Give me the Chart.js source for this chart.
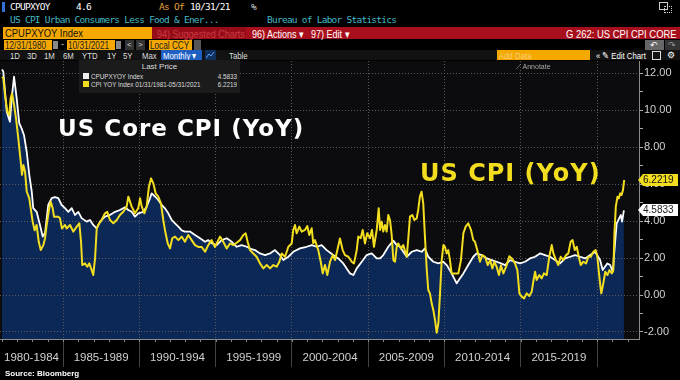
<!DOCTYPE html>
<html><head><meta charset="utf-8">
<script src="https://cdn.jsdelivr.net/npm/chart.js@4"></script>
<style>
html,body{margin:0;padding:0;background:#000;}
#wrap{position:relative;width:680px;height:380px;overflow:hidden;background:#000;font-family:"Liberation Sans",Arial,sans-serif;}
.t{position:absolute;white-space:nowrap;line-height:1;}
.mono{font-family:"DejaVu Sans Mono",monospace;font-size:9.5px;letter-spacing:-0.75px;}
.n{transform:scaleX(0.82);transform-origin:0 50%;}
.ln{transform:scaleX(0.84);transform-origin:0 50%;}
.rn{transform:scaleX(0.84);transform-origin:100% 50%;}
.box{position:absolute;}
#plotbg{position:absolute;left:0;top:61px;width:639px;height:278px;background:#0c0c0e;}
canvas{position:absolute;left:0;top:61px;}
</style></head>
<body><div id="wrap">
<!-- row 1 -->
<div class="box" style="left:2px;top:2px;width:3px;height:10px;background:#2f6fd6"></div>
<div class="t mono" style="left:10px;top:2px;color:#fff">CPUPXYOY</div>
<div class="t mono" style="left:76px;top:2px;color:#fff">4.6</div>
<div class="t mono" style="left:159px;top:2px;color:#e6a23c">As Of</div>
<div class="t mono" style="left:190px;top:2px;color:#fff">10/31/21</div>
<div class="t mono" style="left:251px;top:2px;color:#ddd">%</div>
<div class="box" style="left:659px;top:2px;width:7px;height:6px;border:1px solid #ccc"></div>
<div class="box" style="left:664px;top:6px;width:6px;height:5px;border:1px dotted #ccc"></div>
<!-- row 2 -->
<div class="t mono" style="left:10px;top:15px;color:#45b9c6">US CPI Urban Consumers Less Food &amp; Ener...</div>
<div class="t mono" style="left:267px;top:15px;color:#45b9c6">Bureau of Labor Statistics</div>
<!-- row 3 -->
<div class="box" style="left:3px;top:27px;width:149px;height:12px;background:#f5a800"></div>
<div class="t n" style="left:5px;top:28px;font-size:11.5px;color:#111">CPUPXYOY Index</div>
<div class="box" style="left:152px;top:27px;width:528px;height:12px;background:#a80f1c"></div>
<div class="box" style="left:152px;top:27px;width:94px;height:12px;background:#950c17"></div>
<div class="t n" style="left:157px;top:28.5px;font-size:11px;color:#cc3a44">94) Suggested Charts</div>
<div class="t n" style="left:252px;top:28.5px;font-size:11px;color:#fff">96) Actions ▾</div>
<div class="t n" style="left:311px;top:28.5px;font-size:11px;color:#fff">97) Edit ▾</div>
<div class="t n" style="left:566px;top:28.5px;font-size:11.5px;color:#fff">G 262: US CPI CPI CORE</div>
<!-- row 4 -->
<div class="box" style="left:4px;top:40px;width:48px;height:10px;background:#f5a800"></div>
<div class="t n" style="left:5px;top:40.5px;font-size:10px;color:#222">12/31/1980</div>
<div class="box" style="left:53px;top:41px;width:5px;height:8px;background:#888"></div>
<div class="t" style="left:61px;top:40px;font-size:9px;color:#ddd">-</div>
<div class="box" style="left:67px;top:40px;width:48px;height:10px;background:#f5a800"></div>
<div class="t n" style="left:68px;top:40.5px;font-size:10px;color:#222">10/31/2021</div>
<div class="box" style="left:116px;top:41px;width:5px;height:8px;background:#888"></div>
<div class="box" style="left:125px;top:40px;width:9px;height:10px;background:#333"></div>
<div class="t" style="left:127px;top:40.5px;font-size:8px;color:#ddd">&lt;</div>
<div class="box" style="left:136px;top:40px;width:9px;height:10px;background:#333"></div>
<div class="t" style="left:138px;top:40.5px;font-size:8px;color:#ddd">&gt;</div>
<div class="box" style="left:149px;top:40px;width:43px;height:10px;background:#f5a800"></div>
<div class="t n" style="left:150px;top:40.5px;font-size:10px;color:#222">Local CCY</div>
<div class="box" style="left:194px;top:40px;width:7px;height:10px;background:#555"></div>
<div class="box" style="left:645px;top:40px;width:19px;height:10px;background:#666"></div>
<div class="t" style="left:650px;top:40.5px;font-size:9px;color:#fff">↶</div>
<div class="box" style="left:665px;top:40px;width:15px;height:10px;background:#333"></div>
<div class="t" style="left:668px;top:40.5px;font-size:9px;color:#999">↷</div>
<!-- row 5 -->
<div class="box" style="left:0;top:50px;width:680px;height:10px;background:#121212"></div>
<div class="t n" style="left:10px;top:51px;font-size:9.5px;color:#ddd">1D</div>
<div class="t n" style="left:27px;top:51px;font-size:9.5px;color:#ddd">3D</div>
<div class="t n" style="left:44px;top:51px;font-size:9.5px;color:#ddd">1M</div>
<div class="t n" style="left:63px;top:51px;font-size:9.5px;color:#ddd">6M</div>
<div class="t n" style="left:82px;top:51px;font-size:9.5px;color:#ddd">YTD</div>
<div class="t n" style="left:107px;top:51px;font-size:9.5px;color:#ddd">1Y</div>
<div class="t n" style="left:123px;top:51px;font-size:9.5px;color:#ddd">5Y</div>
<div class="t n" style="left:142px;top:51px;font-size:9.5px;color:#ddd">Max</div>
<div class="box" style="left:161px;top:50px;width:41px;height:10px;background:#1f5fc4"></div>
<div class="t n" style="left:163px;top:51px;font-size:9.5px;color:#fff">Monthly ▾</div>
<div class="box" style="left:205px;top:50px;width:11px;height:10px;background:#10305e"></div>
<svg class="box" style="left:206px;top:51px" width="9" height="8"><polyline points="0,7 3,3 5,5 8,1" fill="none" stroke="#5aa0ff" stroke-width="1"/></svg>
<div class="t n" style="left:229px;top:51px;font-size:9.5px;color:#ddd">Table</div>
<div class="box" style="left:497px;top:50px;width:93px;height:10px;background:#f5a800"></div>
<div class="t n" style="left:499px;top:51px;font-size:9.5px;color:#f9cf7a">Add Data</div>
<div class="t n" style="left:596px;top:51px;font-size:9.5px;color:#fff">« ✎ Edit Chart</div>
<div class="box" style="left:652px;top:51px;width:7px;height:7px;border:1px solid #ddd"></div>
<div class="t" style="left:667px;top:50.5px;font-size:9px;color:#fff">⚙</div>

<div id="plotbg"></div>
<canvas id="c" width="680" height="309"></canvas>

<!-- legend -->
<div class="box" style="left:79px;top:60px;width:161px;height:33px;background:#1b1b1b"></div>
<div class="t" style="left:79px;width:161px;top:63px;text-align:center;font-size:8px;color:#ddd">Last Price</div>
<div class="box" style="left:83px;top:73px;width:6px;height:6px;background:#eee"></div>
<div class="t ln" id="lg1" style="left:91px;top:72.5px;font-size:7.5px;color:#ddd"></div>
<div class="t rn" id="lv1" style="right:443px;top:72.5px;font-size:7.5px;color:#ddd"></div>
<div class="box" style="left:83px;top:81px;width:6px;height:6px;background:#f2dd1f"></div>
<div class="t ln" id="lg2" style="left:91px;top:80.5px;font-size:7.5px;color:#ddd"></div>
<div class="t rn" id="lv2" style="right:443px;top:80.5px;font-size:7.5px;color:#ddd"></div>
<div class="t" style="left:516px;top:63px;font-size:7px;color:#aaa">⟋ Annotate</div>

<!-- annotations -->
<div class="t" style="left:58px;top:117px;font-family:'DejaVu Sans',sans-serif;font-weight:bold;font-size:23px;letter-spacing:1px;color:#fff">US Core CPI (YoY)</div>
<div class="t" style="left:420px;top:161px;font-family:'DejaVu Sans',sans-serif;font-weight:bold;font-size:24px;letter-spacing:1px;color:#f2dd1f">US CPI (YoY)</div>

<div class="t" style="left:5px;top:370px;font-size:8px;font-weight:bold;color:#fff">Source: Bloomberg</div>
</div>
<script>
// ---- data (decimal years, % YoY) ----
const coreYears = [1981.00,1981.09,1981.31,1981.52,1981.64,1981.79,1981.96,1982.13,1982.29,1982.44,1982.62,1982.79,1982.95,1983.05,1983.27,1983.49,1983.67,1983.82,1984.03,1984.26,1984.47,1984.69,1984.91,1985.13,1985.35,1985.57,1985.78,1986.00,1986.22,1986.55,1986.77,1986.98,1987.21,1987.42,1987.75,1988.08,1988.41,1988.73,1989.06,1989.28,1989.50,1989.72,1989.93,1990.26,1990.48,1990.70,1990.81,1991.03,1991.24,1991.47,1991.68,1991.90,1992.12,1992.34,1992.56,1992.78,1992.99,1993.32,1993.65,1993.98,1994.31,1994.52,1994.74,1995.07,1995.40,1995.73,1996.06,1996.38,1996.71,1997.04,1997.30,1997.58,1997.91,1998.24,1998.57,1998.89,1999.22,1999.44,1999.77,2000.09,2000.53,2000.97,2001.30,2001.63,2001.95,2002.28,2002.71,2003.04,2003.37,2003.81,2004.03,2004.25,2004.58,2004.90,2005.23,2005.56,2005.78,2005.99,2006.32,2006.65,2006.87,2007.09,2007.30,2007.53,2007.85,2008.18,2008.51,2008.72,2008.94,2009.27,2009.60,2009.92,2010.15,2010.47,2010.80,2011.02,2011.24,2011.56,2011.89,2012.11,2012.44,2012.77,2013.10,2013.42,2013.70,2013.97,2014.30,2014.62,2014.95,2015.28,2015.61,2015.94,2016.26,2016.59,2016.92,2017.25,2017.58,2017.91,2018.24,2018.56,2018.89,2019.22,2019.55,2019.88,2020.20,2020.37,2020.52,2020.68,2020.86,2021.03,2021.18,2021.29,2021.40,2021.56,2021.64,2021.76];
const coreValues = [12.20,12.08,9.92,9.38,10.66,11.81,10.66,9.30,9.00,8.66,7.75,6.50,5.60,4.70,4.50,3.79,3.16,3.35,4.87,5.24,5.30,5.24,4.87,4.70,4.50,4.70,4.33,4.50,4.16,3.97,4.06,3.79,3.60,3.97,4.24,4.33,4.50,4.60,4.75,4.60,4.50,4.24,4.42,4.50,4.78,5.23,5.50,5.33,5.14,4.87,4.69,4.42,4.06,3.88,3.70,3.50,3.43,3.43,3.25,3.07,2.88,2.97,2.80,2.70,2.97,3.07,2.88,2.61,2.70,2.61,2.50,2.43,2.25,2.16,2.25,2.43,2.16,1.89,2.07,2.34,2.52,2.61,2.70,2.61,2.70,2.43,2.16,1.98,1.71,1.17,1.08,1.44,1.80,2.16,2.25,1.98,1.98,2.16,2.61,2.94,2.70,2.61,2.34,2.07,2.34,2.43,2.34,2.52,2.07,1.80,1.71,1.80,1.62,1.17,0.63,0.90,1.17,1.62,2.07,2.25,2.16,1.98,1.89,1.80,1.71,1.62,1.89,1.80,1.71,1.80,1.98,2.07,2.25,2.16,2.07,1.89,1.71,1.98,2.07,2.16,2.07,1.98,2.16,2.34,1.89,1.35,1.53,1.71,1.62,1.26,2.80,3.88,4.06,4.33,3.97,4.5833];

const cpiYears = [1981.00,1981.09,1981.20,1981.35,1981.48,1981.57,1981.66,1981.79,1981.92,1982.07,1982.23,1982.31,1982.40,1982.51,1982.62,1982.79,1982.88,1983.01,1983.14,1983.27,1983.41,1983.54,1983.71,1983.82,1983.93,1984.10,1984.19,1984.32,1984.41,1984.69,1984.80,1984.93,1985.13,1985.24,1985.46,1985.67,1985.90,1986.07,1986.18,1986.26,1986.44,1986.59,1986.72,1986.88,1986.98,1987.10,1987.21,1987.31,1987.53,1987.75,1987.90,1988.08,1988.30,1988.52,1988.73,1988.95,1989.17,1989.28,1989.50,1989.72,1989.93,1990.05,1990.16,1990.33,1990.48,1990.63,1990.77,1990.92,1991.07,1991.24,1991.42,1991.57,1991.68,1991.86,1992.01,1992.16,1992.34,1992.56,1992.78,1992.99,1993.21,1993.43,1993.65,1993.87,1994.09,1994.31,1994.52,1994.74,1994.96,1995.29,1995.50,1995.73,1995.94,1996.16,1996.38,1996.60,1996.82,1996.97,1997.10,1997.25,1997.47,1997.69,1997.91,1998.13,1998.35,1998.57,1998.78,1999.00,1999.18,1999.33,1999.55,1999.77,1999.99,2000.09,2000.20,2000.31,2000.49,2000.64,2000.86,2001.01,2001.14,2001.30,2001.40,2001.51,2001.73,2001.89,2002.02,2002.17,2002.32,2002.50,2002.68,2002.83,2002.98,2003.15,2003.33,2003.48,2003.70,2003.92,2004.07,2004.25,2004.35,2004.51,2004.64,2004.79,2004.94,2005.12,2005.25,2005.38,2005.56,2005.69,2005.78,2005.89,2005.99,2006.10,2006.21,2006.32,2006.43,2006.54,2006.65,2006.76,2006.87,2006.97,2007.15,2007.30,2007.53,2007.64,2007.74,2007.89,2008.02,2008.18,2008.28,2008.39,2008.50,2008.61,2008.72,2008.84,2008.94,2009.05,2009.16,2009.27,2009.38,2009.49,2009.60,2009.71,2009.82,2009.93,2010.03,2010.15,2010.25,2010.36,2010.47,2010.69,2010.91,2011.08,2011.24,2011.39,2011.56,2011.74,2011.89,2012.00,2012.18,2012.33,2012.48,2012.66,2012.84,2012.99,2013.14,2013.27,2013.42,2013.57,2013.70,2013.86,2014.08,2014.25,2014.41,2014.62,2014.78,2014.91,2015.06,2015.22,2015.39,2015.56,2015.72,2015.82,2015.94,2016.04,2016.22,2016.37,2016.52,2016.70,2016.87,2017.03,2017.14,2017.31,2017.46,2017.62,2017.79,2017.97,2018.12,2018.27,2018.40,2018.54,2018.67,2018.80,2018.93,2019.10,2019.28,2019.43,2019.59,2019.76,2019.91,2020.02,2020.13,2020.22,2020.28,2020.41,2020.54,2020.68,2020.81,2020.97,2021.07,2021.14,2021.23,2021.34,2021.43,2021.52,2021.61,2021.70,2021.78];
const cpiValues = [11.80,11.73,10.80,9.92,9.74,10.66,10.90,10.30,9.56,8.48,7.20,6.50,7.03,6.70,5.60,5.23,4.70,3.97,3.50,3.79,2.88,2.43,2.70,3.06,3.79,4.70,5.05,4.70,4.24,4.24,4.15,3.60,3.79,3.60,3.79,3.43,3.70,3.88,2.88,1.62,1.71,1.53,1.71,1.35,1.08,1.98,3.60,3.79,4.06,4.42,4.50,4.06,3.88,4.06,4.33,4.50,4.78,5.32,4.78,4.42,4.69,5.23,4.78,4.42,4.78,5.86,6.31,6.04,5.50,5.32,4.96,4.06,3.52,2.80,2.52,3.07,3.16,2.97,3.16,2.88,3.25,2.97,2.70,2.60,2.60,2.34,2.70,2.97,2.60,3.16,2.88,2.52,2.79,2.70,2.83,2.97,3.25,3.34,2.88,2.43,2.25,2.07,1.71,1.44,1.62,1.44,1.62,1.53,1.80,2.25,2.07,2.61,2.79,3.52,3.79,3.34,3.70,3.43,3.52,3.73,3.25,3.61,2.80,2.97,2.43,1.80,1.17,1.62,1.08,1.80,2.16,1.89,2.43,3.06,2.43,2.16,2.07,1.80,1.71,2.43,3.16,3.07,3.52,2.79,3.34,3.07,3.52,2.61,3.52,4.69,3.52,3.97,3.43,3.79,3.43,4.33,4.06,3.25,1.89,1.80,2.61,2.79,2.52,2.70,2.07,3.16,4.24,4.33,4.06,4.15,4.60,5.32,5.59,4.96,3.16,1.35,0.27,0.09,-0.45,-0.81,-1.35,-2.04,-1.53,0.09,1.89,2.70,2.61,2.25,2.43,1.89,1.17,1.17,1.17,1.89,3.34,3.70,3.88,3.52,2.97,2.88,2.34,1.80,2.16,2.07,1.62,1.89,1.44,1.80,1.53,1.08,1.60,1.17,1.62,2.10,1.98,1.71,1.35,0.09,-0.09,-0.18,0.09,-0.05,0.18,0.72,1.26,0.81,1.08,0.90,1.17,1.08,2.07,2.70,2.25,1.89,1.62,2.07,1.89,2.16,2.25,2.88,2.97,2.43,2.61,2.07,1.62,1.80,1.71,2.07,2.07,2.34,2.43,2.07,1.17,0.45,0.09,0.63,1.26,1.08,1.35,1.17,1.35,3.34,4.78,5.32,5.23,5.50,5.41,5.68,6.2219];

const seriesNames = ['CPUPXYOY Index', 'CPI YOY Index 01/31/1981-05/31/2021'];
const bandStarts = [1980,1985,1990,1995,2000,2005,2010,2015,2020];
const bandLabels = ['1980-1984','1985-1989','1990-1994','1995-1999','2000-2004','2005-2009','2010-2014','2015-2019','2020-2024'];
const yTickValues = [-2,-1,0,1,2,3,4,5,6,7,8,9,10,11,12];

const toPoints = (xs, ys) => xs.map((x, i) => ({x: x, y: ys[i]}));
const lastCore = coreValues[coreValues.length - 1];
const lastCpi = cpiValues[cpiValues.length - 1];
document.getElementById('lg1').textContent = seriesNames[0];
document.getElementById('lg2').textContent = seriesNames[1];
document.getElementById('lv1').textContent = lastCore.toFixed(4);
document.getElementById('lv2').textContent = lastCpi.toFixed(4);

const YELLOW = '#f2dd1f';

const decor = {
  id: 'decor',
  afterDraw(chart) {
    const ctx = chart.ctx, a = chart.chartArea;
    const xs = chart.scales.x, ys = chart.scales.y;
    ctx.save();
    // minor yearly ticks on the bottom axis
    ctx.strokeStyle = '#888'; ctx.lineWidth = 1;
    for (let yr = Math.ceil(xs.min); yr <= xs.max; yr++) {
      const px = Math.round(xs.getPixelForValue(yr)) + 0.5;
      ctx.beginPath(); ctx.moveTo(px, a.bottom); ctx.lineTo(px, a.bottom + 3); ctx.stroke();
    }
    // band labels
    ctx.fillStyle = '#d0d0d0';
    ctx.font = '11.5px "Liberation Sans", Arial, sans-serif';
    ctx.textAlign = 'center'; ctx.textBaseline = 'middle';
    bandStarts.forEach((s, i) => {
      const l = Math.max(xs.getPixelForValue(s), a.left);
      const r = Math.min(xs.getPixelForValue(s + 5), a.right);
      if (r - l > 60) ctx.fillText(bandLabels[i], (l + r) / 2, a.bottom + 19);
    });
    // last value tags
    const tag = (val, fill, txt) => {
      const yc = Math.round(ys.getPixelForValue(val));
      const x0 = a.right - 1;
      ctx.fillStyle = fill;
      ctx.beginPath();
      ctx.moveTo(x0, yc); ctx.lineTo(x0 + 5, yc - 6); ctx.lineTo(x0 + 40, yc - 6);
      ctx.lineTo(x0 + 40, yc + 6); ctx.lineTo(x0 + 5, yc + 6); ctx.closePath(); ctx.fill();
      ctx.fillStyle = txt; ctx.textAlign = 'left'; ctx.textBaseline = 'middle';
      ctx.font = '10px "Liberation Sans", Arial, sans-serif';
      ctx.fillText(val.toFixed(4), x0 + 5, yc + 0.5);
    };
    tag(lastCpi, YELLOW, '#111');
    tag(lastCore, '#ffffff', '#222');
    ctx.restore();
  }
};

new Chart(document.getElementById('c'), {
  type: 'line',
  data: {
    datasets: [
      { label: seriesNames[1], data: toPoints(cpiYears, cpiValues), borderColor: YELLOW, borderWidth: 2, pointRadius: 0, fill: false, borderJoinStyle: 'round', tension: 0 },
      { label: seriesNames[0], data: toPoints(coreYears, coreValues), borderColor: '#ffffff', borderWidth: 1.8, pointRadius: 0, fill: 'start', backgroundColor: '#0b2856', borderJoinStyle: 'round', tension: 0 }
    ]
  },
  options: {
    responsive: false, animation: false, devicePixelRatio: 1,
    layout: { padding: 0, autoPadding: false },
    plugins: { legend: { display: false }, tooltip: { enabled: false }, filler: { drawTime: 'beforeDraw' } },
    scales: {
      x: {
        type: 'linear', position: 'bottom', min: 1980.87, max: 2022.75,
        afterBuildTicks: s => { s.ticks = bandStarts.slice(1).map(v => ({ value: v })); },
        afterFit: s => { s.height = 31; s.paddingLeft = 0; s.paddingRight = 0; },
        ticks: { display: false },
        grid: { color: '#5a5a5a', lineWidth: 1, tickLength: 28, tickColor: '#444', drawTicks: true },
        border: { display: true, color: '#8a8a8a', width: 1, dash: [1, 2] }
      },
      y: {
        position: 'right', min: -2.38, max: 12.66,
        afterBuildTicks: s => { s.ticks = yTickValues.map(v => ({ value: v })); },
        afterFit: s => { s.width = 41; s.paddingTop = 0; s.paddingBottom = 0; },
        ticks: { color: '#d0d0d0', padding: 1, font: { family: '"Liberation Sans", Arial, sans-serif', size: 11 },
                 callback: v => (v % 2 === 0 ? v.toFixed(2) : '') },
        grid: { color: c => (c.tick && c.tick.value % 2 === 0 ? '#5a5a5a' : 'rgba(0,0,0,0)'), tickLength: 4, tickColor: '#aaa', drawTicks: true },
        border: { display: true, color: '#8a8a8a', width: 1, dash: [1, 2] }
      }
    }
  },
  plugins: [decor]
});
</script>
</body></html>
